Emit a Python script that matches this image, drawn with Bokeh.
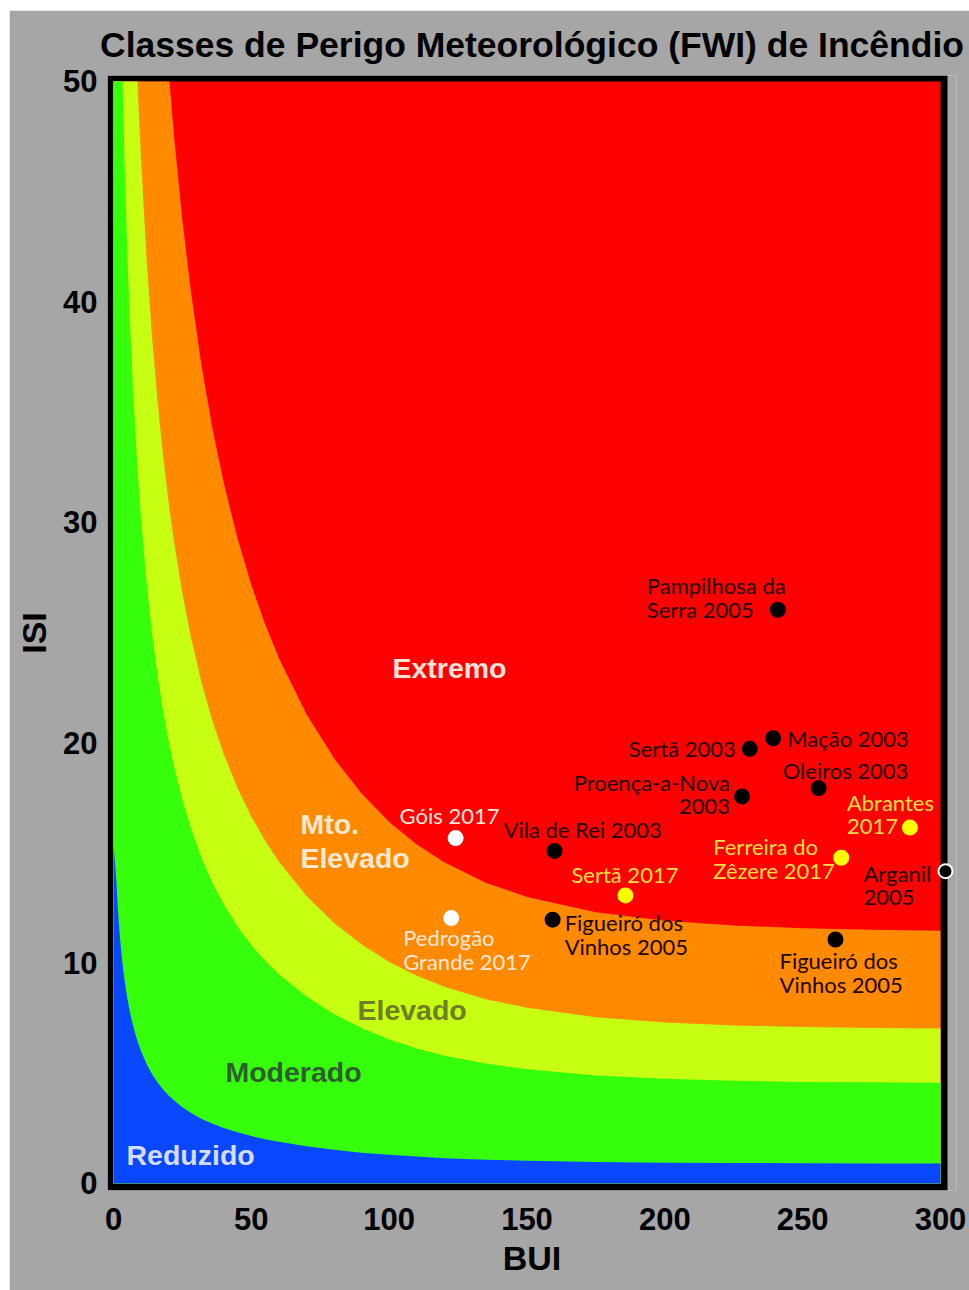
from bokeh.plotting import figure
from bokeh.models import Range1d, FixedTicker, ColumnDataSource
from bokeh.core.properties import value
from bokeh.embed import file_html
from bokeh.resources import INLINE

# ---------------- data ----------------
# class boundary curves (BUI, ISI)
blue_bui = [0, 1, 1.5, 2, 2.5, 3, 3.5, 4, 5, 6, 7, 8, 9, 10, 12, 14, 16, 18, 20, 22, 25, 28, 32, 36, 40,
            45, 50, 55, 60, 70, 80, 90, 100, 110, 120, 135, 150, 175, 200, 225, 250, 275, 300]
blue_isi = [15.4, 13.79, 12.62, 11.69, 10.92, 10.28, 9.72, 9.23, 8.41, 7.76, 7.21, 6.75, 6.35, 6.00,
            5.42, 4.96, 4.58, 4.26, 3.99, 3.76, 3.46, 3.21, 2.93, 2.71, 2.52, 2.32, 2.15, 2.01, 1.89, 1.69,
            1.53, 1.40, 1.30, 1.22, 1.15, 1.08, 1.03, 0.98, 0.94, 0.93, 0.92, 0.91, 0.91]

green_bui = [3.29, 3.5, 4, 5, 6, 7, 8, 9, 10, 12, 14, 16, 18, 20, 22, 25, 28, 32, 36, 40, 45, 50, 55, 60,
             70, 80, 90, 100, 110, 120, 135, 150, 175, 200, 225, 250, 275, 300]
green_isi = [50, 48.86, 46.42, 42.31, 38.99, 36.24, 33.91, 31.91, 30.17, 27.27, 24.95, 23.04, 21.44, 20.08,
             18.90, 17.39, 16.15, 14.75, 13.61, 12.66, 11.65, 10.81, 10.11, 9.49, 8.48, 7.68, 7.05, 6.53,
             6.13, 5.80, 5.44, 5.18, 4.90, 4.75, 4.66, 4.61, 4.59, 4.57]

yellow_bui = [8.69, 9, 10, 12, 14, 16, 18, 20, 22, 25, 28, 32, 36, 40, 45, 50, 55, 60, 70, 80, 90, 100,
              110, 120, 135, 150, 175, 200, 225, 250, 275, 300]
yellow_isi = [50, 49.10, 46.41, 41.95, 38.38, 35.45, 32.99, 30.89, 29.07, 26.76, 24.84, 22.69, 20.94,
              19.47, 17.93, 16.64, 15.55, 14.60, 13.04, 11.82, 10.84, 10.05, 9.42, 8.93, 8.36, 7.97, 7.54,
              7.30, 7.17, 7.10, 7.05, 7.03]

orange_bui = [20.3, 22, 25, 28, 32, 36, 40, 45, 50, 55, 60, 70, 80, 90, 100, 110, 120, 135, 150, 175, 200,
              225, 250, 275, 300]
orange_isi = [50, 47.45, 43.68, 40.54, 37.03, 34.18, 31.78, 29.26, 27.15, 25.37, 23.83, 21.29, 19.29,
              17.69, 16.40, 15.38, 14.57, 13.65, 13.00, 12.31, 11.92, 11.71, 11.58, 11.51, 11.47]

# fire events
event_label = [["Pampilhosa da", "Serra 2005"], ["Mação 2003"], ["Sertã 2003"], ["Oleiros 2003"],
               ["Proença-a-Nova", "2003"], ["Abrantes", "2017"], ["Ferreira do", "Zêzere 2017"],
               ["Arganil", "2005"], ["Figueiró dos", "Vinhos 2005"], ["Góis 2017"], ["Vila de Rei 2003"],
               ["Sertã 2017"], ["Pedrogão", "Grande 2017"], ["Figueiró dos", "Vinhos 2005"]]
event_bui = [241.0, 239.3, 230.8, 255.8, 228.0, 288.9, 264.0, 301.8, 261.9, 124.1, 160.0, 185.7, 122.5, 159.3]
event_isi = [26.03, 20.20, 19.72, 17.94, 17.56, 16.15, 14.78, 14.17, 11.07, 15.67, 15.09, 13.07, 12.04, 11.97]
event_year = [2005, 2003, 2003, 2003, 2003, 2017, 2017, 2005, 2005, 2017, 2003, 2017, 2017, 2005]

class_names = ["Extremo", "Mto.", "Elevado", "Elevado", "Moderado", "Reduzido"]

x_ticks = [0, 50, 100, 150, 200, 250, 300]
y_ticks = [0, 10, 20, 30, 40, 50]

# ---------------- styling / layout ----------------
GRAY = "#a6a6a6"
C_RED, C_ORANGE, C_YELLOW, C_GREEN, C_BLUE = "#ff0000", "#ff8a00", "#c6ff12", "#36ff0c", "#0a48ff"
XMIN, XMAX, YMIN, YMAX = 0, 300, 0, 50
BX0, BX1, BY0, BY1 = -2.18, 302.54, -0.318, 50.27   # outer edge of the black frame

p = figure(width=960, height=1280, x_range=Range1d(BX0, 305.8), y_range=Range1d(BY0, BY1),
           output_backend="svg", toolbar_location=None,
           min_border_left=98, min_border_right=13, min_border_top=65, min_border_bottom=100,
           background_fill_color=GRAY, border_fill_color=GRAY, outline_line_color=None)
p.margin = (10, 0, 0, 9)

p.title.text = "Classes de Perigo Meteorológico (FWI) de Incêndio"
p.title.text_font = "Liberation Sans"
p.title.text_font_size = "35.5px"
p.title.text_font_style = "bold"
p.title.text_color = "black"
p.title.align = "center"
p.title.offset = -15
p.title.standoff = 21

p.grid.visible = False
for ax in (p.xaxis[0], p.yaxis[0]):
    ax.axis_line_color = None
    ax.major_tick_line_color = None
    ax.minor_tick_line_color = None
    ax.major_label_text_font = "Liberation Sans"
    ax.major_label_text_font_style = "bold"
    ax.major_label_text_font_size = "31px"
    ax.major_label_text_color = "black"
    ax.axis_label_text_font = "Liberation Sans"
    ax.axis_label_text_font_style = "bold"
    ax.axis_label_text_font_size = "34px"
    ax.axis_label_text_color = "black"
p.xaxis.ticker = FixedTicker(ticks=x_ticks)
p.yaxis.ticker = FixedTicker(ticks=y_ticks)
p.xaxis.axis_label = "BUI"
p.yaxis.axis_label = "ISI"
p.xaxis.major_label_standoff = 11
p.yaxis.major_label_standoff = 4
p.xaxis.axis_label_standoff = 6
p.yaxis.axis_label_standoff = 7

# black frame and bands
p.quad(left=[BX0], right=[BX1], bottom=[BY0], top=[BY1], fill_color="black", line_color=None)
p.quad(left=[XMIN], right=[XMAX], bottom=[YMIN], top=[YMAX], fill_color=C_RED, line_color=None)
for bx, by, col in ((orange_bui, orange_isi, C_ORANGE), (yellow_bui, yellow_isi, C_YELLOW),
                    (green_bui, green_isi, C_GREEN)):
    xs = [XMIN, XMIN] + bx + [XMAX]
    ys = [YMIN, YMAX] + by + [YMIN]
    p.patch(xs, ys, fill_color=col, line_color=None)
p.patch([XMIN] + blue_bui + [XMAX], [YMIN] + blue_isi + [YMIN], fill_color=C_BLUE, line_color=None)

# class labels
cls_x = [101.2, 67.8, 67.8, 88.5, 40.6, 4.7]
cls_y = [23.41, 16.33, 14.79, 7.89, 5.04, 1.27]
cls_col = ["#fde3d8", "#fde8d2", "#fde8d2", "#6f7d25", "#2d5e2d", "#d4dcff"]
p.text(x=cls_x, y=cls_y, text=class_names, text_color=cls_col, text_font=value("Liberation Sans"),
       text_font_style="bold", text_font_size="28.5px", text_align="left", text_baseline="middle")

# event points
dot_col, ring_col = [], []
for i, yr in enumerate(event_year):
    if yr == 2017:
        c = "#ffff00" if event_bui[i] > 150 else "#ffffff"
    else:
        c = "#000000"
    dot_col.append(c)
    ring_col.append("#ffffff" if event_bui[i] > 300 else c)
p.scatter(event_bui, event_isi, size=14, fill_color=dot_col, line_color=ring_col, line_width=2)

# event labels (offsets in px relative to the point: dx, dy of first line, align)
lab_off = [(-131, -24, "left"), (14, 0, "left"), (-14, 0, "right"), (-36, -18, "left"),
           (-12, -14, "right"), (-63, -25, "left"), (-128, -11, "left"), (-82, 2, "left"),
           (-56, 21, "left"), (-56, -23, "left"), (-51, -21, "left"), (-54, -21, "left"),
           (-48, 19, "left"), (12, 3, "left")]
LINE = 24
rows = {"left": dict(x=[], y=[], t=[], dx=[], dy=[], c=[]), "right": dict(x=[], y=[], t=[], dx=[], dy=[], c=[])}
for i, lines in enumerate(event_label):
    dx, dy, al = lab_off[i]
    if dot_col[i] == "#000000":
        tc = "#1e0300"
    elif dot_col[i] == "#ffff00":
        tc = "#ffde4a"
    else:
        tc = "#fde8dc"
    for k, line in enumerate(lines):
        r = rows[al]
        r["x"].append(event_bui[i]); r["y"].append(event_isi[i]); r["t"].append(line)
        r["dx"].append(dx); r["dy"].append(dy + k * LINE); r["c"].append(tc)
for al, r in rows.items():
    src = ColumnDataSource(r)
    p.text(x="x", y="y", text="t", x_offset="dx", y_offset="dy", text_color="c", source=src,
           text_font=value("Lato"), text_font_size="22px", text_align=al, text_baseline="middle")

open("out.html", "w").write(file_html(p, INLINE))
